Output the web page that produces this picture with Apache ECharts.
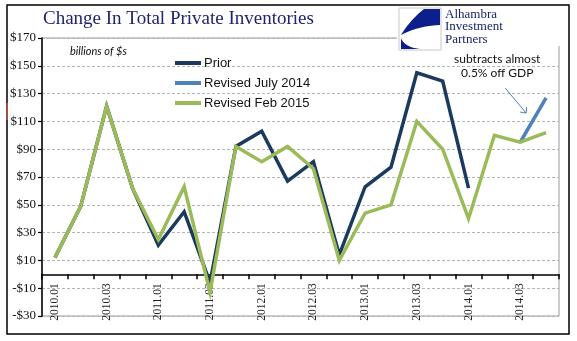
<!DOCTYPE html>
<html>
<head>
<meta charset="utf-8">
<script src="https://cdn.jsdelivr.net/npm/echarts@6/dist/echarts.min.js"></script>
<style>
  html, body { margin: 0; padding: 0; background: #fff; }
  #chart { width: 577px; height: 341px; }
</style>
</head>
<body>
<div id="chart"></div>
<script>
// Quarterly change in private inventories, billions of dollars
const categories = [
  '2010.01', '2010.02', '2010.03', '2010.04',
  '2011.01', '2011.02', '2011.03', '2011.04',
  '2012.01', '2012.02', '2012.03', '2012.04',
  '2013.01', '2013.02', '2013.03', '2013.04',
  '2014.01', '2014.02', '2014.03', '2014.04'
];
const prior = [12, 49, 121, 62, 21, 45, -6, 92, 103, 67, 81, 14, 63, 77, 145, 139, 62, null, null, null];
const revisedJuly2014 = [null, null, null, null, null, null, null, null, null, null, null, null, null, null, null, null, null, null, 95, 127];
const revisedFeb2015 = [12, 49, 121, 62, 25, 63, -13, 92, 81, 92, 76, 10, 44, 50, 110, 90, 40, 100, 95, 102];
const yTicks = { min: -30, max: 170, step: 20 };

const serif = '"Liberation Serif", "Times New Roman", serif';
const sans = 'Lato, "Open Sans", sans-serif';

const gridBox = { left: 42, right: 18, top: 38, bottom: 25 };
const plotHeight = 341 - gridBox.top - gridBox.bottom;
// lift the category axis up to the zero line of the value axis
const zeroLift = (0 - yTicks.min) / (yTicks.max - yTicks.min) * plotHeight;

const chart = echarts.init(document.getElementById('chart'), null, { renderer: 'canvas' });

const lineSeries = (name, data, color) => ({
  name, type: 'line', data,
  symbol: 'none', connectNulls: false,
  lineStyle: { width: 3.5, color, join: 'miter' },
  itemStyle: { color },
  emphasis: { disabled: true },
  animation: false
});

chart.setOption({
  animation: false,
  grid: Object.assign({
    outerBoundsMode: 'none',
    show: true, borderColor: '#9a9a9a', borderWidth: 1, backgroundColor: 'transparent'
  }, gridBox),
  legend: {
    orient: 'vertical', left: 170, top: 51,
    icon: 'rect', itemWidth: 26, itemHeight: 4, itemGap: 6,
    textStyle: { fontFamily: '"Liberation Sans", Arial, sans-serif', fontSize: 13, color: '#111', lineHeight: 14, padding: [0, 0, 0, -2] },
    selectedMode: false,
    data: ['Prior', 'Revised July 2014', 'Revised Feb 2015']
  },
  xAxis: {
    type: 'category', data: categories, boundaryGap: true,
    position: 'bottom', offset: -zeroLift,
    axisLine: { onZero: false, lineStyle: { color: '#000', width: 1.5 } },
    axisTick: { show: true, interval: 0, length: 5, alignWithLabel: false, lineStyle: { color: '#000', width: 1.5 } },
    axisLabel: { interval: 1, rotate: 90, margin: 9, fontFamily: serif, fontSize: 11.5, color: '#222' },
    splitLine: { show: false }
  },
  yAxis: {
    type: 'value', min: yTicks.min, max: yTicks.max, interval: yTicks.step,
    axisLine: { show: true, onZero: false, lineStyle: { color: '#000', width: 1.5 } },
    axisTick: { show: true, length: 4, lineStyle: { color: '#000', width: 1.2 } },
    axisLabel: {
      margin: 6, fontFamily: serif, fontSize: 13, color: '#111',
      formatter: v => (v < 0 ? '-$' + Math.abs(v) : '$' + v)
    },
    splitLine: { show: true, lineStyle: { color: '#b4b4b4', type: [3, 2], width: 1 } }
  },
  series: [
    lineSeries('Prior', prior, '#1B3A5E'),
    lineSeries('Revised July 2014', revisedJuly2014, '#4F81BD'),
    lineSeries('Revised Feb 2015', revisedFeb2015, '#9BBB59')
  ]
});

// Sample a quadratic curve into polygon points
function quad(p0, c, p1, n) {
  const pts = [];
  for (let i = 0; i <= n; i++) {
    const t = i / n, u = 1 - t;
    pts.push([u * u * p0[0] + 2 * u * t * c[0] + t * t * p1[0], u * u * p0[1] + 2 * u * t * c[1] + t * t * p1[1]]);
  }
  return pts;
}
const sailUpper = [[440, 9], [424, 9]].concat(quad([424, 9], [410, 20], [401, 35], 10)).concat(quad([401, 35], [418, 26], [440, 25], 10));
const sailLower = quad([401, 38], [404, 47], [420, 49], 10).concat([[401, 49]]);

// Callout pointing at the start of the July 2014 revision segment
const pA = chart.convertToPixel({ seriesIndex: 1 }, [18, 116]);
const pB = chart.convertToPixel({ seriesIndex: 1 }, [19, 116]);
const tip = [pA[0] + 0.23 * (pB[0] - pA[0]), pA[1]];
const textX = pA[0] - 23;
const arrowFrom = [tip[0] - 21, tip[1] - 25];

chart.setOption({
  graphic: [
    // outer frame
    { type: 'rect', shape: { x: 7, y: 5, width: 562, height: 329 }, style: { fill: 'none', stroke: '#000', lineWidth: 1.5 }, z: 50, silent: true },
    { type: 'line', shape: { x1: 7, y1: 103, x2: 7, y2: 120 }, style: { stroke: '#c0504d', lineWidth: 1.5 }, z: 51, silent: true },
    // title
    { type: 'text', x: 43, y: 10, style: { text: 'Change In Total Private Inventories', font: '19px ' + serif, fill: '#1f2470' }, z: 60 },
    // logo backdrop
    { type: 'rect', shape: { x: 397, y: 6, width: 165, height: 40 }, style: { fill: '#fff' }, z: 55, silent: true },
    { type: 'rect', shape: { x: 399, y: 8, width: 42, height: 42 }, style: { fill: '#fff', stroke: '#c8c8c8', lineWidth: 1 }, z: 56, silent: true },
    { type: 'polygon', shape: { points: sailUpper }, style: { fill: '#0d1f8c' }, z: 57, silent: true },
    { type: 'polygon', shape: { points: sailLower }, style: { fill: '#0d1f8c' }, z: 57, silent: true },
    { type: 'text', x: 445, y: 8, style: { text: 'Alhambra\nInvestment\nPartners', font: '13px ' + serif, lineHeight: 12.5, fill: '#1a2270' }, z: 60 },
    // units note
    { type: 'text', x: 70, y: 46, style: { text: 'billions of $s', font: 'italic 11px ' + sans, fill: '#111' }, z: 60 },
    // callout
    { type: 'text', x: textX, y: tip[1] - 61, style: { text: 'subtracts almost\n0.5% off GDP', font: '12px ' + sans, fill: '#111', align: 'center', lineHeight: 14 }, z: 60 },
    { type: 'line', shape: { x1: arrowFrom[0], y1: arrowFrom[1], x2: tip[0], y2: tip[1] }, style: { stroke: '#4F81BD', lineWidth: 1 }, z: 60, silent: true },
    { type: 'polyline', shape: { points: [[tip[0] - 6, tip[1] - 1], [tip[0], tip[1]], [tip[0] + 0.5, tip[1] - 6]] }, style: { stroke: '#4F81BD', lineWidth: 1, fill: 'none' }, z: 60, silent: true }
  ]
});
</script>
</body>
</html>
